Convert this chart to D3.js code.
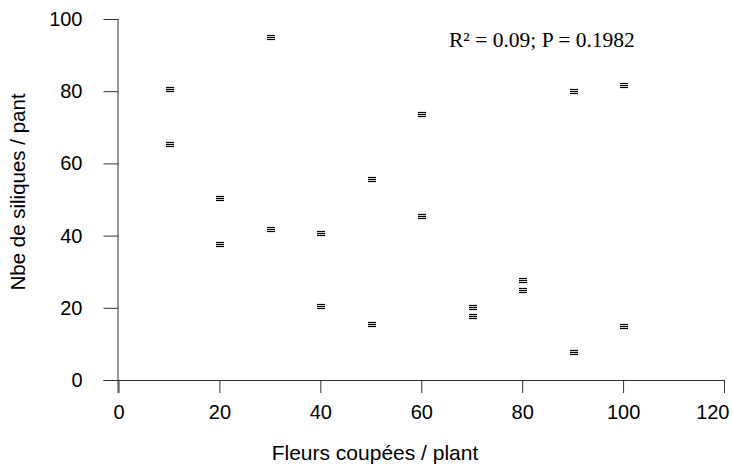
<!DOCTYPE html>
<html>
<head>
<meta charset="utf-8">
<script src="https://cdn.jsdelivr.net/npm/d3@7"></script>
<style>
  body { margin: 0; background: #fff; }
  svg { display: block; }
</style>
</head>
<body>
<div id="chart"></div>
<script>
// Fleurs coupées vs nombre de siliques
const fleursCoupees = [10, 10, 20, 20, 30, 30, 40, 40, 50, 50, 60, 60, 70, 70, 80, 80, 90, 90, 100, 100];
const nbSiliques = [80.6, 65.5, 50.4, 37.8, 95.1, 41.7, 40.6, 20.6, 55.6, 15.6, 73.8, 45.5, 20.2, 17.8, 27.7, 25.0, 80.0, 7.8, 81.6, 15.0];
const xTicks = [0, 20, 40, 60, 80, 100, 120];
const yTicks = [0, 20, 40, 60, 80, 100];
const statsLabel = "R² = 0.09; P = 0.1982";

const width = 733;
const height = 464;
const margin = { top: 19, right: 9, bottom: 84, left: 118.5 };

const svg = d3.select("#chart")
    .append("svg")
    .attr("width", width)
    .attr("height", height)
    .style("font-family", "'Liberation Sans', Arial, sans-serif");

const x = d3.scaleLinear()
    .domain([0, 120])
    .range([margin.left, width - margin.right]);

const y = d3.scaleLinear()
    .domain([0, 100])
    .range([height - margin.bottom, margin.top]);

// Axe X
const xAxis = svg.append("g")
    .attr("transform", `translate(0,${y(0)})`)
    .call(d3.axisBottom(x).tickValues(xTicks).tickSize(13).tickSizeOuter(0).tickPadding(12));
xAxis.select(".domain").attr("d", `M${x(0) - 15},0.5H${x(120)}`);
// le dernier libellé est rentré pour tenir dans la page
xAxis.selectAll(".tick text").filter(d => d === 120)
    .attr("text-anchor", "end")
    .attr("dx", 5);

// Axe Y
const yAxis = svg.append("g")
    .attr("transform", `translate(${x(0)},0)`)
    .call(d3.axisLeft(y).tickValues(yTicks).tickSize(15).tickSizeOuter(0).tickPadding(21));
yAxis.select(".domain").attr("d", `M-0.5,${y(100)}V${y(0) + 13}`);

svg.selectAll(".tick text")
    .attr("font-size", "20px")
    .attr("font-family", "'Liberation Sans', Arial, sans-serif")
    .attr("fill", "#000");
svg.selectAll(".tick line, .domain").attr("stroke", "#333");

// Marqueurs (petits tirets empilés)
const markers = svg.append("g")
    .attr("stroke", "#000")
    .attr("stroke-width", 1.2)
    .selectAll("g")
    .data(fleursCoupees.map((f, i) => ({ f: f, s: nbSiliques[i] })))
    .join("g")
    .attr("transform", d => `translate(${Math.round(x(d.f)) + 1},${Math.round(y(d.s)) + 0.5})`);

markers.selectAll("line")
    .data([-2, 0, 2])
    .join("line")
    .attr("x1", -4)
    .attr("x2", 4)
    .attr("y1", d => d)
    .attr("y2", d => d);

// Titres des axes
svg.append("text")
    .attr("x", 375)
    .attr("y", 460)
    .attr("text-anchor", "middle")
    .attr("font-size", "21px")
    .text("Fleurs coupées / plant");

svg.append("text")
    .attr("transform", "translate(25,192) rotate(-90)")
    .attr("text-anchor", "middle")
    .attr("font-size", "20.5px")
    .text("Nbe de siliques / pant");

// Statistiques
svg.append("text")
    .attr("x", 449)
    .attr("y", 47)
    .attr("font-family", "'Liberation Serif', 'Times New Roman', serif")
    .attr("font-size", "21.5px")
    .text(statsLabel);
</script>
</body>
</html>
